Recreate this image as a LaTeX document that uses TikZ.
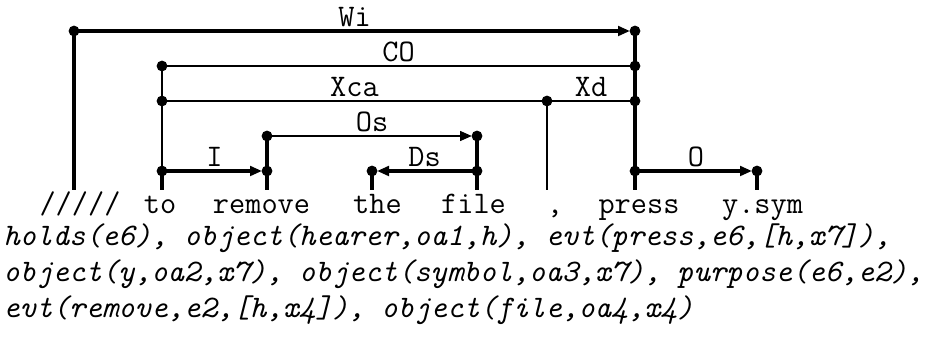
\documentclass[tikz,border=0pt]{standalone}
\usetikzlibrary{arrows.meta}
\begin{document}
\begin{tikzpicture}[x=0.5pt,y=-0.5pt,
  dot/.style={circle,fill=black,inner sep=0pt,minimum size=5.4pt},
  word/.style={font=\fontsize{15.7}{18}\selectfont\ttfamily,anchor=base,inner sep=0pt},
  lab/.style={font=\fontsize{15.7}{18}\selectfont\ttfamily,anchor=base,inner sep=0pt},
  sem/.style={font=\fontsize{15.65}{18}\selectfont\ttfamily\itshape,anchor=base west,inner sep=0pt},
  thk/.style={line width=1.6pt},
  thn/.style={line width=1.05pt},
  med/.style={line width=1.3pt},
  arr/.style={-{Triangle[length=6pt,width=4.8pt]},shorten >=2.5pt}
]
\useasboundingbox (0,0) rectangle (927,341);
% link dots
\node[dot] (w1) at (74,31) {};
\node[dot] (p1) at (635,31) {};
\node[dot] (t1) at (162,66) {};
\node[dot] (p2) at (635,66) {};
\node[dot] (t2) at (162,101) {};
\node[dot] (c1) at (547,101) {};
\node[dot] (p3) at (635,101) {};
\node[dot] (r1) at (267,136) {};
\node[dot] (f1) at (477,136) {};
\node[dot] (t3) at (162,171) {};
\node[dot] (r2) at (267,171) {};
\node[dot] (h1) at (372,171) {};
\node[dot] (f2) at (477,171) {};
\node[dot] (p4) at (635,171) {};
\node[dot] (y1) at (757,171) {};
% stub feet
\coordinate (bw) at (74,190);
\coordinate (bt) at (162,190);
\coordinate (br) at (267,190);
\coordinate (bh) at (372,190);
\coordinate (bf) at (477,190);
\coordinate (bc) at (547,190);
\coordinate (bp) at (635,190);
\coordinate (by) at (757,190);
% verticals
\draw[thk] (w1.center) -- (bw);
\draw[thn] (t1.center) -- (t3.center);
\draw[thk] (t3.center) -- (bt);
\draw[thk] (r1.center) -- (br);
\draw[thk] (h1.center) -- (bh);
\draw[thk] (f1.center) -- (bf);
\draw[med] (c1.center) -- (bc);
\draw[thk] (p1.center) -- (bp);
\draw[thk] (y1.center) -- (by);
% links
\draw[thk,arr] (w1.center) -- (p1.center);
\draw[med] (t1.center) -- (p2.center);
\draw[thn] (t2.center) -- (c1.center);
\draw[thn] (c1.center) -- (p3.center);
\draw[med,arr] (r1.center) -- (f1.center);
\draw[thk,arr] (t3.center) -- (r2.center);
\draw[thk,arr] (f2.center) -- (h1.center);
\draw[thk,arr] (p4.center) -- (y1.center);
% link labels
\node[lab] (lWi) at (354.5,27) {Wi};
\node[lab] (lCO) at (398.5,62) {CO};
\node[lab] (lXca) at (354.5,97) {Xca};
\node[lab] (lXd) at (591,97) {Xd};
\node[lab] (lOs) at (372,132) {Os};
\node[lab] (lI) at (214.5,167) {I};
\node[lab] (lDs) at (424.5,167) {Ds};
\node[lab] (lO) at (696,167) {O};
% words
\node[word] (wl) at (80,214) {/////};
\node[word] (wto) at (160,214) {to};
\node[word] (wre) at (261.5,214) {remove};
\node[word] (wth) at (377.5,214) {the};
\node[word] (wfi) at (473.5,214) {file};
\node[word] (wco) at (555,214) {,};
\node[word] (wpr) at (639,214) {press};
\node[word] (wys) at (762.5,214) {y.sym};
% semantics
\node[sem] (s1) at (3,246) {holds(e6), object(hearer,oa1,h), evt(press,e6,[h,x7]),};
\node[sem] (s2) at (3,282) {object(y,oa2,x7), object(symbol,oa3,x7), purpose(e6,e2),};
\node[sem] (s3) at (3,318) {evt(remove,e2,[h,x4]), object(file,oa4,x4)};
\end{tikzpicture}
\end{document}
